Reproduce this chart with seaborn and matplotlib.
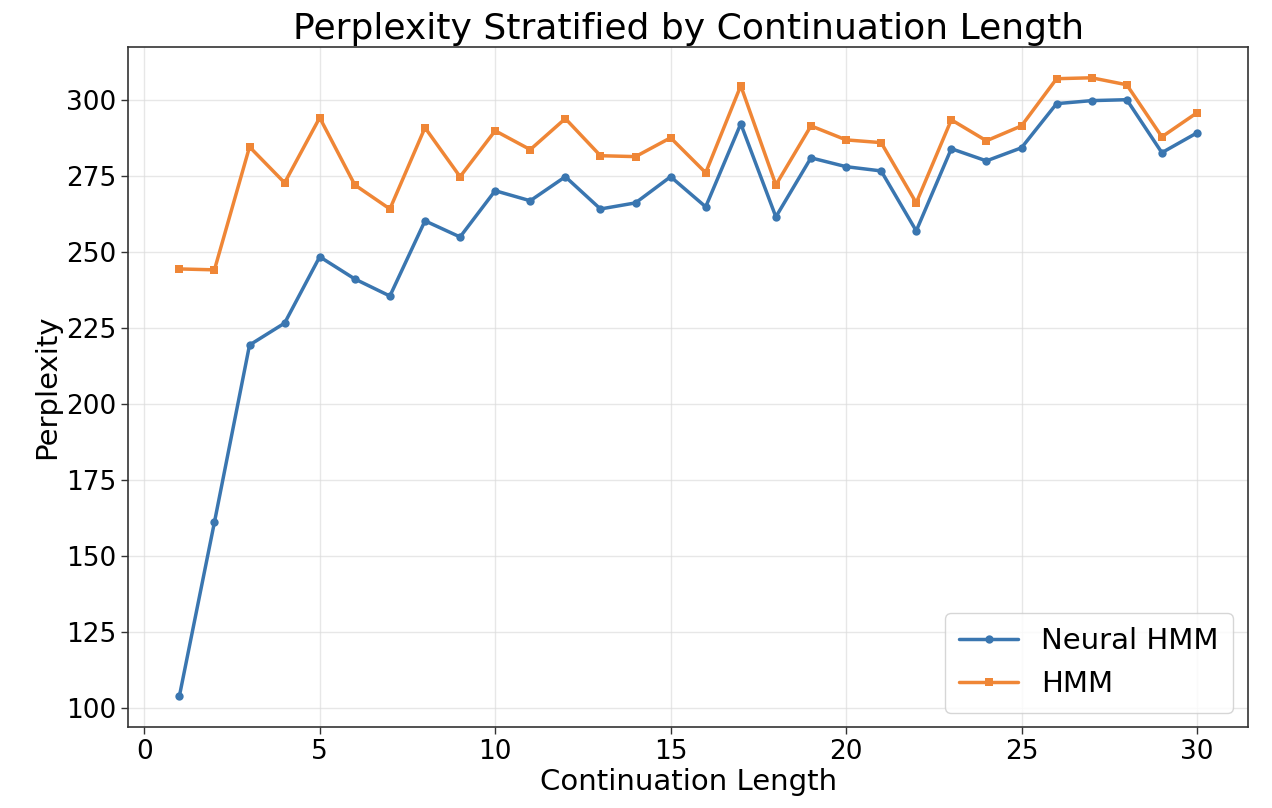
import numpy as np
import pandas as pd
import seaborn as sns
import matplotlib.pyplot as plt

# continuation lengths
lengths = list(range(1, 31))

# perplexity values
neural_hmm = [104.0, 161.2, 219.4, 226.6, 248.4, 241.1, 235.5, 260.2, 254.9, 270.1,
              266.8, 274.7, 264.1, 266.1, 274.7, 264.8, 292.1, 261.5, 280.9, 278.0,
              276.6, 256.9, 283.9, 279.9, 284.2, 298.7, 299.7, 300.0, 282.6, 289.1]
hmm = [244.4, 244.1, 284.5, 272.7, 294.1, 272.0, 264.1, 290.8, 274.7, 289.8,
       283.6, 293.8, 281.6, 281.3, 287.5, 276.0, 304.6, 272.0, 291.4, 286.8,
       285.9, 266.1, 293.4, 286.5, 291.4, 306.9, 307.2, 304.9, 287.8, 295.7]

models = ['Neural HMM', 'HMM']

df = pd.DataFrame({
    'length': lengths * 2,
    'ppl': neural_hmm + hmm,
    'model': [models[0]] * len(lengths) + [models[1]] * len(lengths),
})

sns.set_style('whitegrid')
plt.rcParams['font.family'] = ['DejaVu Sans']
plt.rcParams['text.color'] = 'black'
plt.rcParams['axes.labelcolor'] = 'black'
plt.rcParams['xtick.color'] = '#333333'
plt.rcParams['ytick.color'] = '#333333'
plt.rcParams['xtick.labelcolor'] = 'black'
plt.rcParams['ytick.labelcolor'] = 'black'

fig, ax = plt.subplots(figsize=(12.72, 8.08), dpi=100)

sns.lineplot(data=df, x='length', y='ppl', hue='model', style='model',
             markers={'Neural HMM': 'o', 'HMM': 's'}, dashes=False,
             palette={'Neural HMM': '#3a76b0', 'HMM': '#ef8636'},
             linewidth=2.5, markersize=6, markeredgewidth=0, ax=ax)

ax.set_title('Perplexity Stratified by Continuation Length', fontsize=26, color='black')
ax.set_xlabel('Continuation Length', fontsize=21, labelpad=2)
ax.set_ylabel('Perplexity', fontsize=21)
ax.tick_params(axis='both', labelsize=19, length=5, width=1, bottom=True, left=True)
ax.set_yticks([100, 125, 150, 175, 200, 225, 250, 275, 300])
ax.set_xticks([0, 5, 10, 15, 20, 25, 30])
ax.grid(True, color='#dddddd', alpha=0.7, linewidth=1)
for s in ax.spines.values():
    s.set_color('#333333')
    s.set_linewidth(1.2)

leg = ax.legend(loc='lower right', fontsize=21, frameon=True, borderpad=0.5)
leg.set_title(None)

plt.tight_layout()
plt.subplots_adjust(left=0.101, right=0.981, top=0.942, bottom=0.1)
plt.savefig('out.png', dpi=100)
